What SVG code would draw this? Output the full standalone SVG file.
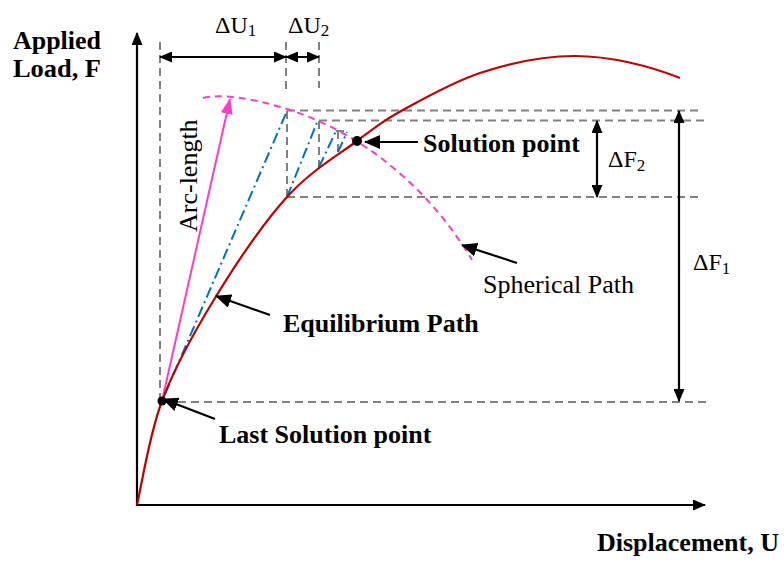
<svg xmlns="http://www.w3.org/2000/svg" width="784" height="561" viewBox="0 0 784 561">
<style>
.grid{fill:none;stroke:#808080;stroke-width:2;stroke-dasharray:8,5}
.blue{fill:none;stroke:#0070C0;stroke-width:2;stroke-dasharray:11,4,2,4}
.red{fill:none;stroke:#C00000;stroke-width:2.2}
.pinkd{fill:none;stroke:#FF3CC8;stroke-width:2;stroke-dasharray:7,5}
.blk{fill:none;stroke:#000;stroke-width:2.2}
.lbl{font-family:"Liberation Serif","Times New Roman",serif;font-size:26px;fill:#000}
.b{font-weight:bold}
.math{font-family:"Liberation Serif","Times New Roman",serif;font-size:24px;fill:#000}
.sub{font-size:17px}
</style>
<defs>
<marker id="ah" markerUnits="userSpaceOnUse" markerWidth="13" markerHeight="11" refX="12" refY="5.5" orient="auto-start-reverse" viewBox="0 0 13 11">
<path d="M0,0 L13,5.5 L0,11 z" fill="#000"/>
</marker>
<marker id="ahL" markerUnits="userSpaceOnUse" markerWidth="16" markerHeight="14" refX="15" refY="7" orient="auto" viewBox="0 0 16 14">
<path d="M0,0 L16,7 L0,14 z" fill="#000"/>
</marker>
<marker id="ahp" markerUnits="userSpaceOnUse" markerWidth="16" markerHeight="12" refX="15" refY="6" orient="auto" viewBox="0 0 16 12">
<path d="M0,0 L16,6 L0,12 z" fill="#FF3CC8"/>
</marker>
</defs>
<g id="axes">
<line x1="137" y1="506" x2="137" y2="33" class="blk" stroke-width="2.5" marker-end="url(#ah)"/>
<line x1="136" y1="505" x2="705" y2="505" class="blk" stroke-width="2.5" marker-end="url(#ah)"/>
</g>
<g id="guides">
<line x1="160" y1="42" x2="160" y2="401" class="grid"/>
<line x1="286" y1="42" x2="286" y2="90" class="grid"/>
<line x1="319" y1="42" x2="319" y2="88" class="grid"/>
<line x1="287" y1="111" x2="287" y2="197" class="grid"/>
<line x1="319" y1="121" x2="319" y2="168" class="grid"/>
<line x1="338" y1="131" x2="338" y2="153" class="grid"/>
<line x1="287" y1="110.5" x2="702" y2="110.5" class="grid"/>
<line x1="319" y1="120.5" x2="708" y2="120.5" class="grid"/>
<line x1="336" y1="131" x2="349" y2="131" class="grid"/>
<line x1="287" y1="197" x2="702" y2="197" class="grid"/>
<line x1="165" y1="402" x2="710" y2="402" class="grid"/>
</g>
<g id="iterations">
<line x1="165" y1="394" x2="287" y2="111" class="blue"/>
<line x1="287" y1="197" x2="318" y2="120" class="blue"/>
<line x1="319" y1="167" x2="336" y2="131" class="blue"/>
<line x1="338" y1="152" x2="347" y2="132" class="blue"/>
</g>
<g id="spherical-path">
<path d="M203,98 C220,94 250,97 290,110 C320,120 345,133 370,150 C410,178 445,215 472,260" class="pinkd"/>
</g>
<g id="arc-length">
<line x1="162" y1="401" x2="230" y2="99" stroke="#FF3CC8" stroke-width="2" marker-end="url(#ahp)"/>
<text class="lbl" transform="translate(197,232) rotate(-90)">Arc-length</text>
</g>
<g id="equilibrium-path">
<path class="red" d="M137,505 C141.2,487.7 149,435.5 162,401 C175,366.5 194.2,332 215,298 C235.8,264 263.3,223.2 287,197 C310.7,170.8 337.7,155.5 357,141 C376.3,126.5 382.5,121.3 403,110 C423.5,98.7 453,82 480,73 C510,63 545,56 575,56 C610,56 650,66 680,78"/>
</g>
<g id="last-solution-point">
<circle cx="162" cy="401" r="4.5" fill="#000"/>
</g>
<g id="solution-point">
<circle cx="357" cy="141" r="5" fill="#000"/>
</g>
<g id="connectors">
<line x1="160" y1="57" x2="286" y2="57" class="blk" stroke-width="2" marker-start="url(#ah)" marker-end="url(#ah)"/>
<line x1="286" y1="57" x2="319" y2="57" class="blk" stroke-width="2" marker-start="url(#ah)" marker-end="url(#ah)"/>
<line x1="679" y1="111" x2="679" y2="401" class="blk" stroke-width="2" marker-start="url(#ah)" marker-end="url(#ah)"/>
<line x1="597" y1="121" x2="597" y2="197" class="blk" stroke-width="2" marker-start="url(#ah)" marker-end="url(#ah)"/>
<line x1="418" y1="142" x2="365" y2="142" class="blk" marker-end="url(#ahL)"/>
<line x1="270" y1="315" x2="216" y2="296" class="blk" marker-end="url(#ahL)"/>
<line x1="215" y1="419" x2="163" y2="399" class="blk" marker-end="url(#ahL)"/>
<line x1="517" y1="263" x2="462" y2="245" class="blk" marker-end="url(#ahL)"/>
</g>
<g id="labels">
<text class="lbl b" x="13" y="49" font-size="24" textLength="88" lengthAdjust="spacingAndGlyphs">Applied</text>
<text class="lbl b" x="13" y="77" font-size="24" textLength="88" lengthAdjust="spacingAndGlyphs">Load, F</text>
<text class="lbl b" x="597" y="551">Displacement, U</text>
<text class="lbl b" x="423" y="152">Solution point</text>
<text class="lbl b" x="283" y="332">Equilibrium Path</text>
<text class="lbl b" x="219" y="443">Last Solution point</text>
<text class="lbl" x="483" y="293">Spherical Path</text>
<text class="math" x="215" y="33">ΔU<tspan class="sub" dy="3">1</tspan></text>
<text class="math" x="288" y="33">ΔU<tspan class="sub" dy="3">2</tspan></text>
<text class="math" x="608" y="167">ΔF<tspan class="sub" dy="4">2</tspan></text>
<text class="math" x="693" y="270">ΔF<tspan class="sub" dy="4">1</tspan></text>
</g>
</svg>
